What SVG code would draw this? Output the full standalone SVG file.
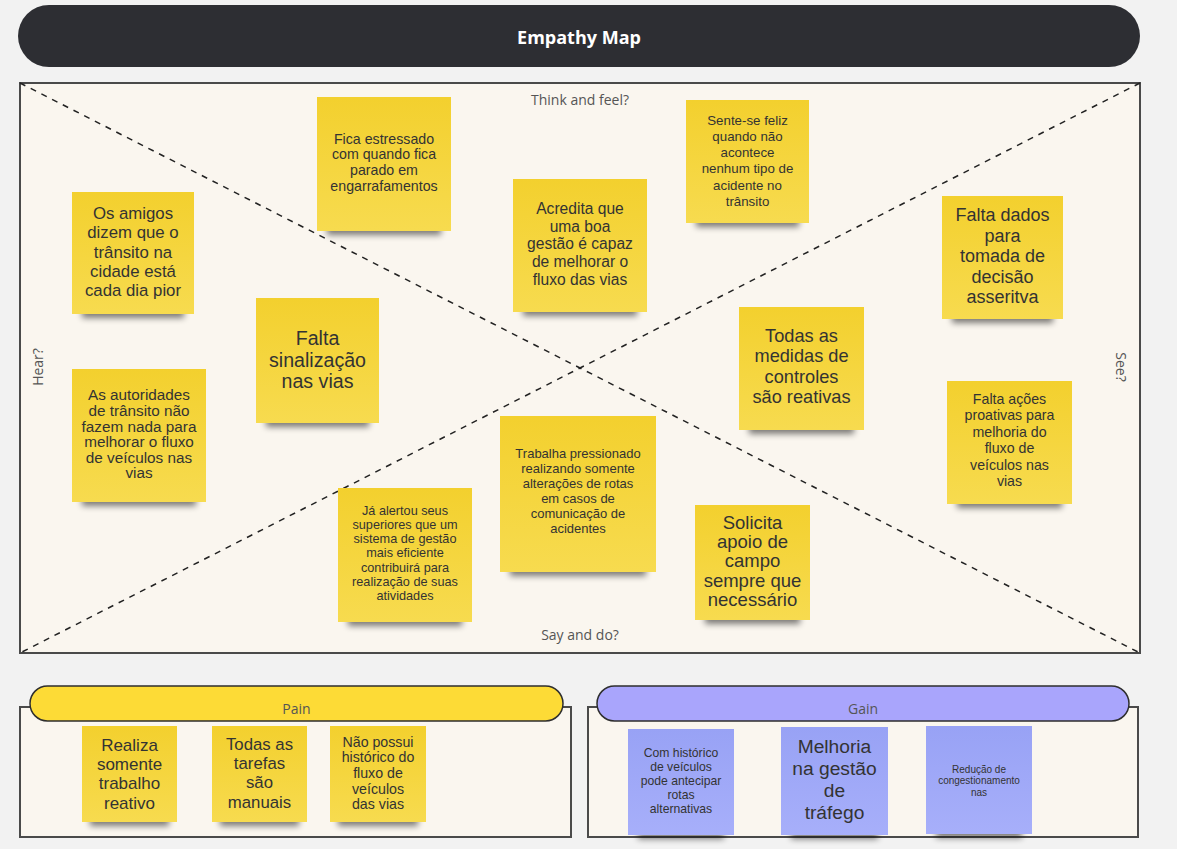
<svg xmlns="http://www.w3.org/2000/svg" width="1177" height="849" viewBox="0 0 1177 849">
  <defs>
    <linearGradient id="gYellow" x1="0" y1="0" x2="0" y2="1">
      <stop offset="0" stop-color="#f3d02e"/>
      <stop offset="1" stop-color="#f7db4f"/>
    </linearGradient>
    <linearGradient id="gBlue" x1="0" y1="0" x2="0" y2="1">
      <stop offset="0" stop-color="#98a2f5"/>
      <stop offset="1" stop-color="#a7affa"/>
    </linearGradient>
    <filter id="blur" x="-20%" y="-100%" width="140%" height="300%">
      <feGaussianBlur stdDeviation="3.2"/>
    </filter>
  </defs>
  <style>
    .bg { fill: #f2f2f2; }
    .frame { fill: #faf6ef; stroke: #4a4a4a; stroke-width: 2; }
    .divider { stroke: #222; stroke-width: 1.5; stroke-dasharray: 6 6; fill: none; }
    .axis { font-family: "Open Sans", "Noto Sans", sans-serif; font-size: 14px; fill: #555; text-anchor: middle; }
    .title { font-family: "Open Sans", "Noto Sans", sans-serif; font-size: 18px; font-weight: 700; fill: #ffffff; text-anchor: middle; }
    .yellow { fill: url(#gYellow); }
    .blue { fill: url(#gBlue); }
    .shadow { fill: #000; opacity: 0.5; filter: url(#blur); }
    .note { font-family: "Liberation Sans", Arial, sans-serif; fill: #333; text-anchor: middle; }
    .pill { stroke: #2e2e2e; stroke-width: 1.5; }
  </style>

  <rect class="bg" x="0" y="0" width="1177" height="849"/>

  <!-- header bar -->
  <g id="header">
    <rect x="18" y="5" width="1122" height="62" rx="31" ry="31" fill="#2d2e33"/>
    <text class="title" x="579" y="44">Empathy Map</text>
  </g>

  <!-- main quadrant board -->
  <g id="board">
    <rect class="frame" x="20" y="83" width="1120" height="570"/>
    <text class="axis" x="580" y="105">Think and feel?</text>
    <text class="axis" x="580" y="640">Say and do?</text>
    <text class="axis" transform="translate(43 367) rotate(-90)">Hear?</text>
    <text class="axis" transform="translate(1116 367) rotate(90)">See?</text>
  </g>

  <!-- quadrant dividers -->
  <g id="dividers">
    <line class="divider" x1="20" y1="83" x2="1140" y2="653"/>
    <line class="divider" x1="1140" y1="83" x2="20" y2="653"/>
  </g>

  <!-- think and feel -->
  <g id="note-fica-estressado">
    <rect class="shadow" x="327" y="221" width="114" height="14"/>
    <rect class="yellow" x="317" y="97" width="134" height="134"/>
    <text class="note" font-size="14.2" x="384" y="143.5">
      <tspan x="384">Fica estressado</tspan><tspan x="384" dy="15.8">com quando fica</tspan><tspan x="384" dy="15.8">parado em</tspan><tspan x="384" dy="15.8">engarrafamentos</tspan>
    </text>
  </g>

  <g id="note-acredita">
    <rect class="shadow" x="523" y="302" width="114" height="14"/>
    <rect class="yellow" x="513" y="179" width="134" height="133"/>
    <text class="note" font-size="15.6" x="580" y="213.8">
      <tspan x="580">Acredita que</tspan><tspan x="580" dy="17.8">uma boa</tspan><tspan x="580" dy="17.8">gestão é capaz</tspan><tspan x="580" dy="17.8">de melhorar o</tspan><tspan x="580" dy="17.8">fluxo das vias</tspan>
    </text>
  </g>

  <g id="note-sente-se-feliz">
    <rect class="shadow" x="696" y="213" width="103" height="14"/>
    <rect class="yellow" x="686" y="100" width="123" height="123"/>
    <text class="note" font-size="13.3" x="747.5" y="124.7">
      <tspan x="747.5">Sente-se feliz</tspan><tspan x="747.5" dy="16.2">quando não</tspan><tspan x="747.5" dy="16.2">acontece</tspan><tspan x="747.5" dy="16.2">nenhum tipo de</tspan><tspan x="747.5" dy="16.2">acidente no</tspan><tspan x="747.5" dy="16.2">trânsito</tspan>
    </text>
  </g>

  <!-- see -->
  <g id="note-falta-dados">
    <rect class="shadow" x="952" y="309" width="101" height="14"/>
    <rect class="yellow" x="942" y="196" width="121" height="123"/>
    <text class="note" font-size="18" x="1002.5" y="221.3">
      <tspan x="1002.5">Falta dados</tspan><tspan x="1002.5" dy="20.5">para</tspan><tspan x="1002.5" dy="20.5">tomada de</tspan><tspan x="1002.5" dy="20.5">decisão</tspan><tspan x="1002.5" dy="20.5">asseritva</tspan>
    </text>
  </g>

  <g id="note-todas-medidas">
    <rect class="shadow" x="749" y="420" width="105" height="14"/>
    <rect class="yellow" x="739" y="307" width="125" height="123"/>
    <text class="note" font-size="18.2" x="801.5" y="342">
      <tspan x="801.5">Todas as</tspan><tspan x="801.5" dy="20.3">medidas de</tspan><tspan x="801.5" dy="20.3">controles</tspan><tspan x="801.5" dy="20.3">são reativas</tspan>
    </text>
  </g>

  <g id="note-falta-acoes">
    <rect class="shadow" x="957" y="494" width="105" height="14"/>
    <rect class="yellow" x="947" y="381" width="125" height="123"/>
    <text class="note" font-size="14.2" x="1009.5" y="404">
      <tspan x="1009.5">Falta ações</tspan><tspan x="1009.5" dy="16.4">proativas para</tspan><tspan x="1009.5" dy="16.4">melhoria do</tspan><tspan x="1009.5" dy="16.4">fluxo de</tspan><tspan x="1009.5" dy="16.4">veículos nas</tspan><tspan x="1009.5" dy="16.4">vias</tspan>
    </text>
  </g>

  <!-- hear -->
  <g id="note-os-amigos">
    <rect class="shadow" x="82" y="304" width="102" height="14"/>
    <rect class="yellow" x="72" y="192" width="122" height="122"/>
    <text class="note" font-size="16.8" x="133" y="219.2">
      <tspan x="133">Os amigos</tspan><tspan x="133" dy="19.2">dizem que o</tspan><tspan x="133" dy="19.2">trânsito na</tspan><tspan x="133" dy="19.2">cidade está</tspan><tspan x="133" dy="19.2">cada dia pior</tspan>
    </text>
  </g>

  <g id="note-falta-sinalizacao">
    <rect class="shadow" x="266" y="413" width="103" height="14"/>
    <rect class="yellow" x="256" y="298" width="123" height="125"/>
    <text class="note" font-size="19.6" x="317.5" y="345">
      <tspan x="317.5">Falta</tspan><tspan x="317.5" dy="21.5">sinalização</tspan><tspan x="317.5" dy="21.5">nas vias</tspan>
    </text>
  </g>

  <g id="note-autoridades">
    <rect class="shadow" x="82" y="492" width="114" height="14"/>
    <rect class="yellow" x="72" y="369" width="134" height="133"/>
    <text class="note" font-size="15.3" x="139" y="400.3">
      <tspan x="139">As autoridades</tspan><tspan x="139" dy="15.6">de trânsito não</tspan><tspan x="139" dy="15.6">fazem nada para</tspan><tspan x="139" dy="15.6">melhorar o fluxo</tspan><tspan x="139" dy="15.6">de veículos nas</tspan><tspan x="139" dy="15.6">vias</tspan>
    </text>
  </g>

  <!-- say and do -->
  <g id="note-ja-alertou">
    <rect class="shadow" x="348" y="612" width="114" height="14"/>
    <rect class="yellow" x="338" y="488" width="134" height="134"/>
    <text class="note" font-size="12.7" x="405" y="514.5">
      <tspan x="405">Já alertou seus</tspan><tspan x="405" dy="14.3">superiores que um</tspan><tspan x="405" dy="14.3">sistema de gestão</tspan><tspan x="405" dy="14.3">mais eficiente</tspan><tspan x="405" dy="14.3">contribuirá para</tspan><tspan x="405" dy="14.3">realização de suas</tspan><tspan x="405" dy="14.3">atividades</tspan>
    </text>
  </g>

  <g id="note-trabalha-pressionado">
    <rect class="shadow" x="510" y="562" width="136" height="14"/>
    <rect class="yellow" x="500" y="416" width="156" height="156"/>
    <text class="note" font-size="13" x="578" y="458">
      <tspan x="578">Trabalha pressionado</tspan><tspan x="578" dy="15">realizando somente</tspan><tspan x="578" dy="15">alterações de rotas</tspan><tspan x="578" dy="15">em casos de</tspan><tspan x="578" dy="15">comunicação de</tspan><tspan x="578" dy="15">acidentes</tspan>
    </text>
  </g>

  <g id="note-solicita-apoio">
    <rect class="shadow" x="705" y="610" width="95" height="14"/>
    <rect class="yellow" x="695" y="505" width="115" height="115"/>
    <text class="note" font-size="18.5" x="752.5" y="529">
      <tspan x="752.5">Solicita</tspan><tspan x="752.5" dy="19.2">apoio de</tspan><tspan x="752.5" dy="19.2">campo</tspan><tspan x="752.5" dy="19.2">sempre que</tspan><tspan x="752.5" dy="19.2">necessário</tspan>
    </text>
  </g>

  <!-- pain panel -->
  <g id="pain">
    <rect class="frame" x="20" y="707" width="551" height="130"/>
    <rect class="pill" x="30" y="686" width="533" height="35" rx="17.5" ry="17.5" fill="#fddb36"/>
    <text class="axis" x="296.5" y="714">Pain</text>
  </g>

  <g id="note-realiza-somente">
    <rect class="shadow" x="90" y="812" width="79" height="14"/>
    <rect class="yellow" x="82" y="726" width="95" height="96"/>
    <text class="note" font-size="17" x="129.5" y="751">
      <tspan x="129.5">Realiza</tspan><tspan x="129.5" dy="19.2">somente</tspan><tspan x="129.5" dy="19.2">trabalho</tspan><tspan x="129.5" dy="19.2">reativo</tspan>
    </text>
  </g>

  <g id="note-tarefas-manuais">
    <rect class="shadow" x="220" y="812" width="79" height="14"/>
    <rect class="yellow" x="212" y="726" width="95" height="96"/>
    <text class="note" font-size="16.8" x="259.5" y="750">
      <tspan x="259.5">Todas as</tspan><tspan x="259.5" dy="19.2">tarefas</tspan><tspan x="259.5" dy="19.2">são</tspan><tspan x="259.5" dy="19.2">manuais</tspan>
    </text>
  </g>

  <g id="note-nao-possui">
    <rect class="shadow" x="338" y="812" width="80" height="14"/>
    <rect class="yellow" x="330" y="726" width="96" height="96"/>
    <text class="note" font-size="14.2" x="378" y="746.7">
      <tspan x="378">Não possui</tspan><tspan x="378" dy="15.6">histórico do</tspan><tspan x="378" dy="15.6">fluxo de</tspan><tspan x="378" dy="15.6">veículos</tspan><tspan x="378" dy="15.6">das vias</tspan>
    </text>
  </g>

  <!-- gain panel -->
  <g id="gain">
    <rect class="frame" x="588" y="707" width="550" height="130"/>
    <rect class="pill" x="597" y="686" width="532" height="35" rx="17.5" ry="17.5" fill="#a9a5fc"/>
    <text class="axis" x="863" y="714">Gain</text>
  </g>

  <g id="note-com-historico">
    <rect class="shadow" x="638" y="825" width="86" height="14"/>
    <rect class="blue" x="628" y="729" width="106" height="106"/>
    <text class="note" font-size="12.2" x="681" y="757">
      <tspan x="681">Com histórico</tspan><tspan x="681" dy="14">de veículos</tspan><tspan x="681" dy="14">pode antecipar</tspan><tspan x="681" dy="14">rotas</tspan><tspan x="681" dy="14">alternativas</tspan>
    </text>
  </g>

  <g id="note-melhoria-gestao">
    <rect class="shadow" x="791" y="825" width="87" height="14"/>
    <rect class="blue" x="781" y="727" width="107" height="108"/>
    <text class="note" font-size="19.2" x="834.5" y="752.7">
      <tspan x="834.5">Melhoria</tspan><tspan x="834.5" dy="22.2">na gestão</tspan><tspan x="834.5" dy="22.2">de</tspan><tspan x="834.5" dy="22.2">tráfego</tspan>
    </text>
  </g>

  <g id="note-reducao">
    <rect class="shadow" x="936" y="824" width="86" height="14"/>
    <rect class="blue" x="926" y="726" width="106" height="108"/>
    <text class="note" font-size="10" x="979" y="772.5">
      <tspan x="979">Redução de</tspan><tspan x="979" dy="11.5">congestionamento</tspan><tspan x="979" dy="11.5">nas</tspan>
    </text>
  </g>
</svg>
